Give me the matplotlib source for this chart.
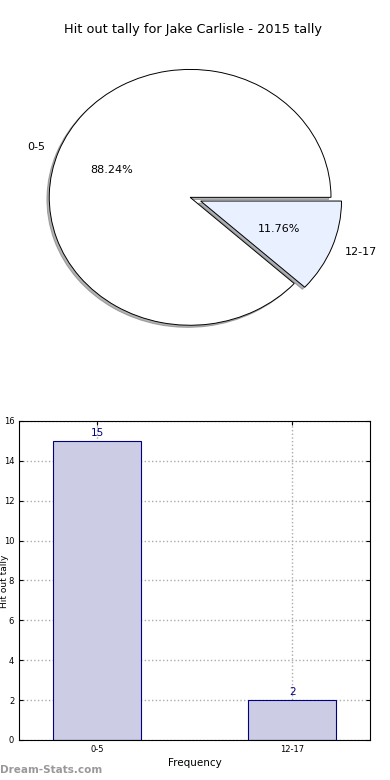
import numpy as np
import matplotlib
matplotlib.use("Agg")
import matplotlib.pyplot as plt

# hitout tally data, Jake Carlisle 2015
categories = ['0-5', '12-17']
counts = [15, 2]
pie_colors = ['#FFFFFF', '#E9F0FF']
explode = [0, 0.08]

fig = plt.figure(figsize=(3.9, 7.8), dpi=100)

# pie on top
ax1 = fig.add_axes([0.036, 0.542, 0.903, 0.410])
wedges, texts, autotexts = ax1.pie(counts, labels=categories, colors=pie_colors,
                                   explode=explode, autopct='%1.2f%%',
                                   shadow={'ox': -0.012, 'oy': -0.012, 'shade': 0.6},
                                   startangle=0, wedgeprops={'edgecolor': 'black', 'linewidth': 0.7},
                                   textprops={'fontsize': 8})
ax1.set_aspect('auto')
ax1.set_xlim(-1.25, 1.25)
ax1.set_ylim(-1.25, 1.25)
ax1.axis('off')
fig.text(0.494, 0.962, 'Hit out tally for Jake Carlisle - 2015 tally', ha='center', va='center', fontsize=9.3)

# bars below
ax2 = fig.add_axes([0.049, 0.0513, 0.9, 0.409])
x = np.arange(len(categories))
bars = ax2.bar(x, counts, width=0.45, color='#CCCCE5', edgecolor='navy', linewidth=0.8, zorder=2)
for b, v in zip(bars, counts):
    ax2.text(b.get_x() + b.get_width() / 2, v + 0.15, str(v), ha='center', va='bottom',
             color='navy', fontsize=7.5)
ax2.set_xlim(-0.4, 1.4)
ax2.set_ylim(0, 16)
ax2.set_yticks(np.arange(0, 17, 2))
ax2.set_xticks(x)
ax2.set_xticklabels(categories)
ax2.tick_params(labelsize=6, direction='in', top=True, right=True, length=3)
ax2.grid(True, linestyle=':', color='#AAAAAA', linewidth=1, zorder=0)
ax2.set_xlabel('Frequency', fontsize=7.5, labelpad=3)
fig.text(0.011, 0.255, 'Hit out tally', rotation=90, ha='center', va='center', fontsize=6.5)

fig.text(0.0, 0.013, 'Dream-Stats.com', ha='left', va='center', fontsize=7.5, color='#999999', fontweight='bold')

fig.savefig('out.png', dpi=100)
